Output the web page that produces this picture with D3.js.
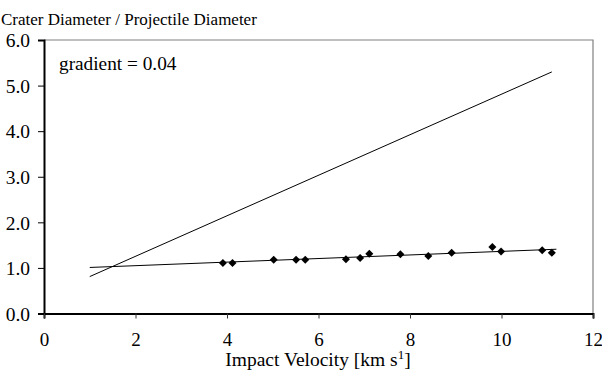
<!DOCTYPE html>
<html>
<head>
<meta charset="utf-8">
<script src="https://cdn.jsdelivr.net/npm/d3@7"></script>
<style>
  html, body { margin: 0; padding: 0; background: #fff; }
</style>
</head>
<body>
<svg id="chart" width="602" height="370"></svg>
<script>
// Measured impact velocities (km/s) and crater/projectile diameter ratios
const velocity = [3.91, 4.12, 5.02, 5.51, 5.71, 6.60, 6.91, 7.11, 7.79, 8.40, 8.91, 9.80, 9.99, 10.89, 11.10];
const ratio    = [1.11, 1.11, 1.18, 1.18, 1.18, 1.19, 1.22, 1.31, 1.30, 1.26, 1.33, 1.46, 1.36, 1.39, 1.33];

// Trend through the data (gradient 0.04)
const trendX = [1.0, 11.2];
const trendY = [1.01, 1.41];

// Comparison line
const refX = [1.0, 11.1];
const refY = [0.81, 5.30];

const xTicks = [0, 2, 4, 6, 8, 10, 12];
const yTicks = [0, 1, 2, 3, 4, 5, 6];

const FONT = "'Liberation Serif', 'Times New Roman', Times, 'DejaVu Serif', serif";

const svg = d3.select("#chart").attr("font-family", FONT);
const plotLeft = 44, plotRight = 593, plotTop = 40, plotBottom = 313.5;

const x = d3.scaleLinear().domain([0, 12]).range([plotLeft, plotRight]);
const y = d3.scaleLinear().domain([0, 6]).range([plotBottom, plotTop]);

// Plot frame: top and right edges in grey
svg.append("path")
  .attr("d", `M${plotLeft},${plotTop}H${plotRight}V${plotBottom}`)
  .attr("fill", "none").attr("stroke", "#808080").attr("stroke-width", 1.2);

// Y axis
const yAxis = svg.append("g").attr("transform", `translate(${plotLeft},0)`)
  .call(d3.axisLeft(y).tickValues(yTicks).tickSize(6).tickPadding(8).tickFormat(d3.format(".1f")))
  .attr("font-family", FONT).attr("font-size", 19.5);
yAxis.select(".domain").attr("stroke", "#000").attr("stroke-width", 2);
yAxis.selectAll(".tick line").attr("stroke", "#000").attr("stroke-width", 1);
yAxis.selectAll("text").attr("dy", "0.35em").attr("fill", "#000");

// X axis
const xAxis = svg.append("g").attr("transform", `translate(0,${plotBottom})`)
  .call(d3.axisBottom(x).tickValues(xTicks).tickSize(5).tickPadding(14.5).tickFormat(d3.format("d")))
  .attr("font-family", FONT).attr("font-size", 19);
xAxis.select(".domain").attr("stroke", "#000").attr("stroke-width", 2);
xAxis.selectAll(".tick line").attr("stroke", "#333").attr("stroke-width", 1);
xAxis.selectAll("text").attr("fill", "#000");

// Lines
const line = d3.line().x(d => x(d[0])).y(d => y(d[1]));
svg.append("path").datum(d3.zip(refX, refY))
  .attr("d", line).attr("fill", "none").attr("stroke", "#000").attr("stroke-width", 1);
svg.append("path").datum(d3.zip(trendX, trendY))
  .attr("d", line).attr("fill", "none").attr("stroke", "#000").attr("stroke-width", 1);

// Data markers (diamonds)
svg.append("g").selectAll("path").data(d3.zip(velocity, ratio)).join("path")
  .attr("d", d3.symbol().type(d3.symbolSquare).size(32))
  .attr("transform", d => `translate(${x(d[0])},${y(d[1])}) rotate(45)`)
  .attr("fill", "#000");

// Texts
svg.append("text").attr("x", 1).attr("y", 25).attr("font-size", 17)
  .text("Crater Diameter / Projectile Diameter");
svg.append("text").attr("x", 59).attr("y", 70).attr("font-size", 19.3)
  .text("gradient = 0.04");

const xt = svg.append("text").attr("x", 318).attr("y", 366)
  .attr("text-anchor", "middle").attr("font-size", 19.5);
xt.append("tspan").text("Impact Velocity [km s");
xt.append("tspan").attr("dy", -7).attr("font-size", 13).text("1");
xt.append("tspan").attr("dy", 7).text("]");
</script>
</body>
</html>
